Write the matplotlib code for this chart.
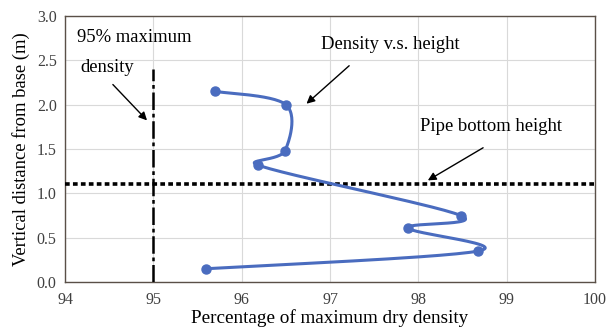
import numpy as np
import matplotlib.pyplot as plt

plt.rcParams['font.family'] = ['Liberation Serif', 'DejaVu Serif']

# density profile: percentage of max dry density vs height above base
density = [95.70, 96.50, 96.49, 96.18, 98.48, 97.88, 98.68, 95.60]
height = [2.15, 2.00, 1.48, 1.32, 0.75, 0.61, 0.35, 0.15]

limit_density = 95.0
limit_top = 2.4
pipe_height = 1.1

xticks = [94, 95, 96, 97, 98, 99, 100]
yticks = [0.0, 0.5, 1.0, 1.5, 2.0, 2.5, 3.0]


def smooth(xs, ys, n=30):
    # Bezier through the points, control points from neighbours (Catmull-Rom),
    # handle length capped at half the segment so short segments don't loop
    p = np.column_stack([xs, ys])
    ext = np.vstack([p[0], p, p[-1]])
    out = []
    for i in range(len(p) - 1):
        p0, p1, p2, p3 = ext[i], ext[i + 1], ext[i + 2], ext[i + 3]
        half = np.linalg.norm(p2 - p1) / 2
        h1 = (p2 - p0) / 6
        h2 = (p3 - p1) / 6
        for h in (h1, h2):
            L = np.linalg.norm(h)
            if L > half:
                h *= half / L
        c1 = p1 + h1
        c2 = p2 - h2
        t = np.linspace(0, 1, n)[:, None]
        seg = ((1 - t) ** 3) * p1 + 3 * ((1 - t) ** 2) * t * c1 \
            + 3 * (1 - t) * t ** 2 * c2 + t ** 3 * p2
        out.append(seg if i == 0 else seg[1:])
    s = np.vstack(out)
    return s[:, 0], s[:, 1]


fig = plt.figure(figsize=(6.06, 3.31), dpi=100)
ax = fig.add_axes([0.1073, 0.148, 0.8746, 0.8036])

blue = '#4a6cbf'
sx, sy = smooth(density, height)
ax.plot(sx, sy, color=blue, lw=2.2, zorder=4)
ax.plot(density, height, 'o', color=blue, ms=6.5, zorder=5)

ax.plot([limit_density, limit_density], [0, limit_top], color='black', lw=1.8,
        linestyle=(0, (7, 1.5, 1.5, 1.5)), zorder=3)
ax.axhline(pipe_height, color='black', lw=2.6, linestyle=(0, (1.3, 0.9)), zorder=3)

ax.set_xlim(94, 100)
ax.set_ylim(0, 3)
ax.set_xticks(xticks)
ax.set_yticks(yticks)
ax.set_yticklabels([f'{v:.1f}' for v in yticks])
ax.tick_params(length=0, labelsize=11.5, labelcolor='#404040')
ax.tick_params(axis='x', pad=7)
ax.tick_params(axis='y', pad=6)
ax.grid(True, color='#d9d9d9', lw=0.8)
ax.set_axisbelow(True)
for s in ax.spines.values():
    s.set_color('#5a5048')
    s.set_linewidth(1.0)

ax.set_xlabel('Percentage of maximum dry density', fontsize=13.8, labelpad=1)
ax.set_ylabel('Vertical distance from base (m)', fontsize=13.4, labelpad=5)

arrow = dict(arrowstyle='-|>', color='black', lw=1.0, mutation_scale=12)
fs = 13.4
ax.text(94.13, 2.76, '95% maximum', fontsize=fs, va='center', ha='left')
ax.text(94.48, 2.42, 'density', fontsize=fs, va='center', ha='center')
ax.annotate('', xy=(94.95, 1.80), xytext=(94.52, 2.25), arrowprops=arrow)

ax.text(97.68, 2.68, 'Density v.s. height', fontsize=fs, va='center', ha='center')
ax.annotate('', xy=(96.71, 1.99), xytext=(97.24, 2.46), arrowprops=arrow)

ax.text(98.82, 1.75, 'Pipe bottom height', fontsize=fs, va='center', ha='center')
ax.annotate('', xy=(98.08, 1.13), xytext=(98.76, 1.53), arrowprops=arrow)

fig.savefig('out.png', dpi=100)
